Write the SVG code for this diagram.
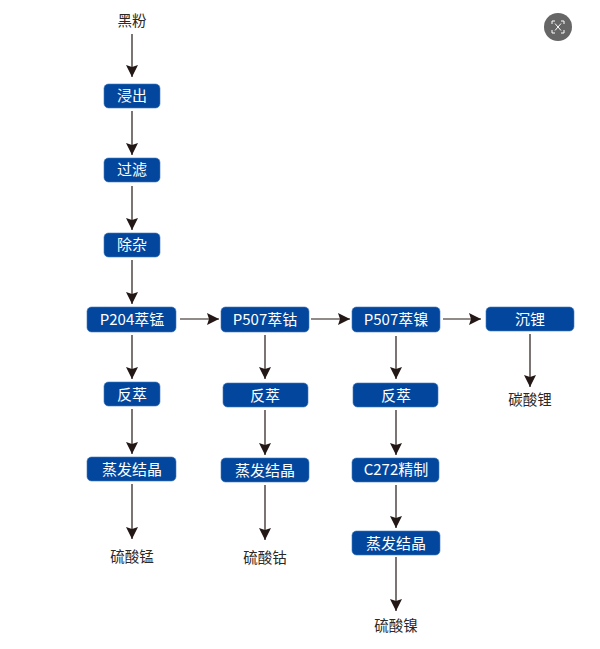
<svg xmlns="http://www.w3.org/2000/svg" width="600" height="649" viewBox="0 0 600 649">
<style>
text{font-family:"Noto Sans CJK SC","Noto Sans",sans-serif;font-size:14.5px;text-anchor:middle}
.b{fill:#02479d;stroke:#3f78bd;stroke-width:.6}
.w{fill:#fff;font-size:15px}
.k{fill:#2b2828}
.c{stroke:#231815;stroke-width:1.2;fill:none;marker-end:url(#a)}
</style>
<defs><marker id="a" markerUnits="userSpaceOnUse" markerWidth="13" markerHeight="14" refX="12" refY="7" orient="auto"><path d="M0 1L12 7L0 13L2 7Z" fill="#231815"/></marker></defs>
<rect width="600" height="649" fill="#fff"/>
<g id="connectors">
<path class="c" d="M132 34V77"/>
<path class="c" d="M132 111V155"/>
<path class="c" d="M132 186V230"/>
<path class="c" d="M132 260V304"/>
<path class="c" d="M132 335V379"/>
<path class="c" d="M132 409V454"/>
<path class="c" d="M132 484V539"/>
<path class="c" d="M180 319H219"/>
<path class="c" d="M311 319H350"/>
<path class="c" d="M443 319H481"/>
<path class="c" d="M265 335V379"/>
<path class="c" d="M265 410V455"/>
<path class="c" d="M265 485V540"/>
<path class="c" d="M396 336V379"/>
<path class="c" d="M396 410V455"/>
<path class="c" d="M396 485V528"/>
<path class="c" d="M396 557V611"/>
<path class="c" d="M530 334V387"/>
</g>
<g id="n1"><text class="k" x="132" y="26">黑粉</text></g>
<g id="n2"><rect class="b" x="104" y="84" width="56" height="24" rx="4.5"/><text class="w" x="132" y="101">浸出</text></g>
<g id="n3"><rect class="b" x="104" y="158" width="56" height="24" rx="4.5"/><text class="w" x="132" y="175">过滤</text></g>
<g id="n4"><rect class="b" x="104" y="233" width="56" height="24" rx="4.5"/><text class="w" x="132" y="250">除杂</text></g>
<g id="n5"><rect class="b" x="87" y="307" width="89" height="25" rx="4.5"/><text class="w" x="132" y="325">P204萃锰</text></g>
<g id="n6"><rect class="b" x="221" y="307" width="88" height="25" rx="4.5"/><text class="w" x="265" y="325">P507萃钴</text></g>
<g id="n7"><rect class="b" x="352" y="307" width="88" height="25" rx="4.5"/><text class="w" x="396" y="325">P507萃镍</text></g>
<g id="n8"><rect class="b" x="486" y="307" width="88" height="24" rx="4.5"/><text class="w" x="530" y="325">沉锂</text></g>
<g id="n9"><rect class="b" x="104" y="382" width="56" height="24" rx="4.5"/><text class="w" x="132" y="400">反萃</text></g>
<g id="n10"><rect class="b" x="223" y="383" width="85" height="24" rx="4.5"/><text class="w" x="265" y="401">反萃</text></g>
<g id="n11"><rect class="b" x="353" y="383" width="85" height="24" rx="4.5"/><text class="w" x="396" y="401">反萃</text></g>
<g id="n12"><rect class="b" x="87" y="457" width="89" height="24" rx="4.5"/><text class="w" x="132" y="475">蒸发结晶</text></g>
<g id="n13"><rect class="b" x="221" y="458" width="88" height="24" rx="4.5"/><text class="w" x="265" y="476">蒸发结晶</text></g>
<g id="n14"><rect class="b" x="352" y="458" width="87" height="24" rx="4.5"/><text class="w" x="396" y="475">C272精制</text></g>
<g id="n15"><rect class="b" x="352" y="531" width="88" height="24" rx="4.5"/><text class="w" x="396" y="549">蒸发结晶</text></g>
<g id="n16"><text class="k" x="132" y="562">硫酸锰</text></g>
<g id="n17"><text class="k" x="265" y="563">硫酸钴</text></g>
<g id="n18"><text class="k" x="396" y="631">硫酸镍</text></g>
<g id="n19"><text class="k" x="530" y="405">碳酸锂</text></g>
<g id="icon">
<circle cx="558" cy="27" r="14" fill="#666"/>
<path d="M552 24V21H555M561 21H564V24M564 30V33H561M555 33H552V30M555 23.5L561 30.5M561 23.5L555 30.5" fill="none" stroke="#fff" stroke-width="1"/>
</g>
</svg>
